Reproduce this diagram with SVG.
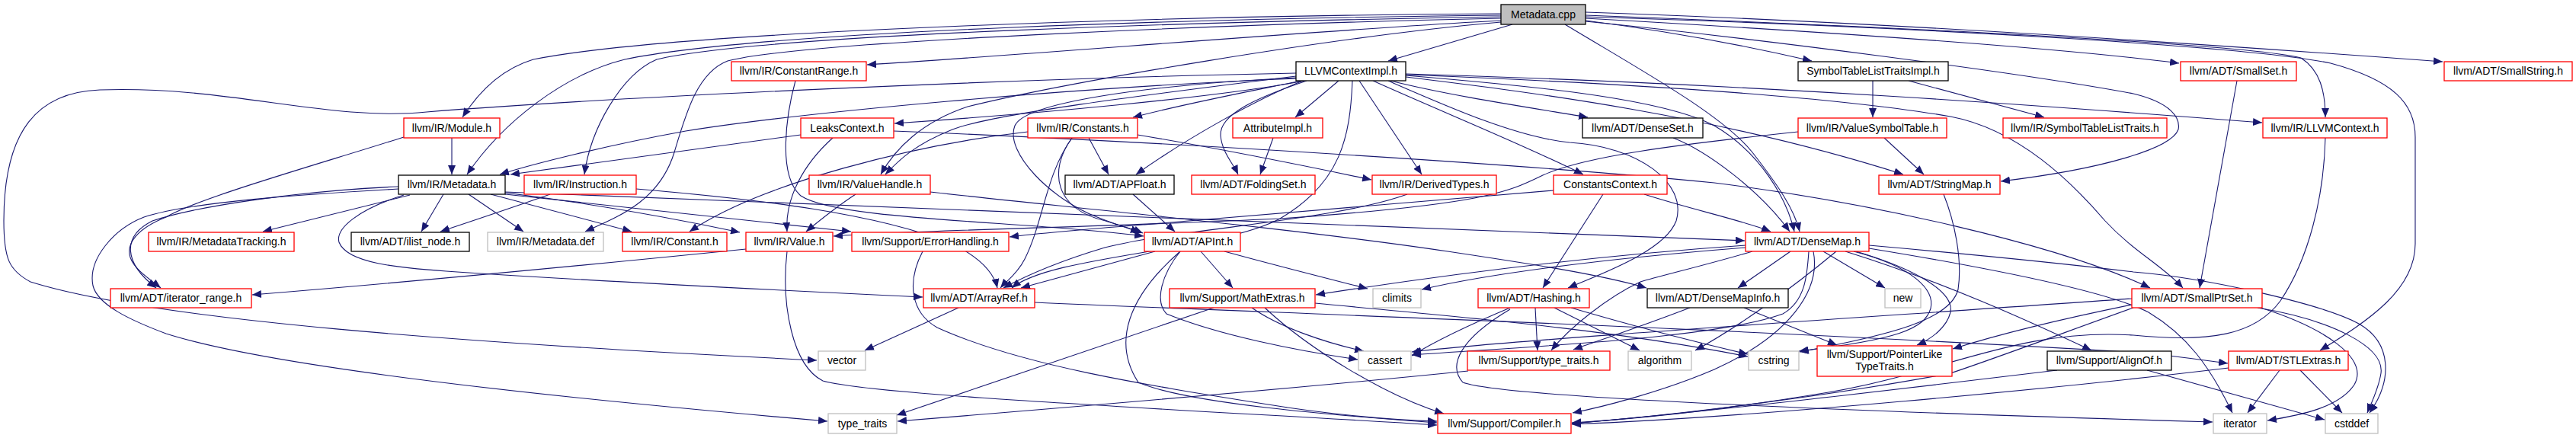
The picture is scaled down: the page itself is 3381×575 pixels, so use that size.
<svg xmlns="http://www.w3.org/2000/svg" width="3381" height="575" viewBox="0 0 3381 575">
<style>
text{font-family:"Liberation Sans",Arial,sans-serif;font-size:14px;text-anchor:middle;fill:#000}
rect{fill:#fff;stroke-width:1.3}
.r rect{stroke:#ff0000}
.b rect{stroke:#000}
.g rect{stroke:#bfbfbf}
.root rect{fill:#bfbfbf;stroke:#000}
#edges path{fill:none;stroke:#191970;stroke-width:1.1;marker-end:url(#ah)}
</style>
<defs>
<marker id="ah" viewBox="0 0 12 10" refX="12" refY="5" markerWidth="12" markerHeight="10" markerUnits="userSpaceOnUse" orient="auto"><path d="M0,0 L12,5 L0,10 z" fill="#191970" stroke="none"/></marker>
</defs>
<rect x="0" y="0" width="3381" height="575" style="fill:#fff;stroke:none"/>
<g id="edges">
<path d="M1970,20 C1600,24 1000,40 820,78 C740,98 660,160 613,229"/>
<path d="M1970,18 C1600,20 900,38 700,78 C660,90 630,118 607,154"/>
<path d="M1970,22 C1600,28 1000,45 862,78 C815,98 775,170 767,229"/>
<path d="M1970,24 C1600,32 1050,55 955,80 C915,95 900,150 885,200 C865,265 810,285 768,304"/>
<path d="M1970,27 C1750,38 1350,72 1138,85"/>
<path d="M1970,29 C1750,48 1400,108 1270,140 C1210,160 1175,195 1156,229"/>
<path d="M1985,32 L1822,80"/>
<path d="M2081,27 C2200,42 2300,62 2378,80"/>
<path d="M2081,24 C2400,42 2700,62 2860,83"/>
<path d="M2081,16 C2500,30 2950,62 3206,81"/>
<path d="M2081,20 C2500,36 2950,58 3020,76 C3045,92 3052,120 3052,154"/>
<path d="M2081,22 C2500,35 2950,60 3059,83 C3140,105 3170,135 3170,180 L3170,320 C3170,380 3110,420 3045,460"/>
<path d="M2081,28 C2300,50 2650,95 2800,123 C2850,135 2862,155 2859,170 C2850,195 2760,222 2626,238"/>
<path d="M2054,32 C2150,90 2260,150 2300,200 C2335,245 2355,275 2362,304"/>
<path d="M1701,96 C1300,104 800,128 560,147 C430,160 300,112 131,118 C50,121 5,170 5,290 C5,340 12,355 40,370 C200,420 600,450 1072,473"/>
<path d="M1712,106 C1600,128 1350,150 1174,162"/>
<path d="M1704,103 C1400,115 1050,148 900,172 C800,190 700,215 656,229"/>
<path d="M1708,106 C1640,120 1560,135 1487,154"/>
<path d="M1757,106 L1700,154"/>
<path d="M1825,106 C1900,125 2000,140 2084,154"/>
<path d="M1784,106 L1866,229"/>
<path d="M1802,106 C1900,150 2000,190 2078,229"/>
<path d="M1701,100 C1500,125 1300,150 1250,170 C1200,190 1180,210 1162,229"/>
<path d="M1710,106 C1650,130 1560,180 1491,229"/>
<path d="M1715,106 C1650,128 1600,150 1602,178 C1604,200 1618,214 1625,229"/>
<path d="M1701,102 C1500,112 1345,135 1332,165 C1318,200 1380,262 1440,285 C1465,295 1482,300 1496,305"/>
<path d="M1775,106 C1772,180 1760,240 1680,287 C1600,330 1380,335 1328,378"/>
<path d="M1822,106 C1900,140 1990,180 2060,187 C2150,192 2215,240 2200,290 C2185,330 2100,360 2058,378"/>
<path d="M1845,99 C2000,112 2180,128 2250,165 C2310,200 2345,260 2355,304"/>
<path d="M1845,101 C2000,120 2250,150 2498,229"/>
<path d="M1845,97 C2300,110 2700,140 2969,161"/>
<path d="M1845,98 C2100,108 2400,125 2560,153 C2650,170 2720,240 2763,290 C2800,330 2840,350 2865,378"/>
<path d="M2458,106 L2458,154"/>
<path d="M2505,106 L2683,154"/>
<path d="M2936,106 L2887,378"/>
<path d="M593,181 L593,229"/>
<path d="M530,180 C420,215 260,260 218,285 C180,300 165,320 171,338 C176,352 190,362 211,378"/>
<path d="M1051,177 L670,229"/>
<path d="M1093,181 C1055,215 1030,260 1033,304"/>
<path d="M1173,172 C1500,185 2000,215 2250,240 C2450,265 2700,320 2822,378"/>
<path d="M1349,173 C1200,190 1000,240 905,304"/>
<path d="M1429,181 L1455,229"/>
<path d="M1493,177 C1600,195 1700,215 1800,236"/>
<path d="M1407,181 C1372,230 1370,290 1345,340 C1335,360 1320,370 1313,378"/>
<path d="M1407,181 C1375,225 1385,275 1451,290 C1470,296 1485,300 1500,306"/>
<path d="M1671,181 L1654,229"/>
<path d="M2196,181 C2240,198 2310,250 2349,304"/>
<path d="M2473,181 L2525,229"/>
<path d="M2360,173 C2200,190 2080,205 2025,230 C1980,252 1950,268 1680,287 C1400,300 1200,302 1094,310"/>
<path d="M3052,181 C3050,260 3030,340 2993,395 C2960,440 2900,450 2800,440 C2650,430 2550,490 2400,515 C2250,540 2150,550 2063,555"/>
<path d="M538,256 C480,270 420,285 345,304"/>
<path d="M582,255 L553,304"/>
<path d="M615,255 L687,304"/>
<path d="M644,255 L829,304"/>
<path d="M663,253 C800,270 900,290 971,305"/>
<path d="M523,245 C400,250 260,270 200,290 C160,310 162,345 205,378"/>
<path d="M523,248 C400,255 250,265 189,285 C150,300 115,340 122,375 C128,400 170,420 218,438 C350,480 700,520 1086,553"/>
<path d="M530,256 C470,275 440,300 445,318 C455,345 520,352 600,357 C800,370 1000,380 1211,390"/>
<path d="M663,255 C850,275 1000,292 1117,304"/>
<path d="M663,252 C1000,265 1600,290 2290,316"/>
<path d="M722,255 C680,270 620,290 578,304"/>
<path d="M835,248 C1000,262 1150,280 1250,320 C1290,340 1305,360 1309,378"/>
<path d="M1123,255 C1100,270 1075,290 1058,304"/>
<path d="M1221,252 C1400,272 1700,300 1900,330 C2000,345 2100,360 2161,378"/>
<path d="M1487,255 L1542,304"/>
<path d="M1044,106 C1032,150 1020,230 1051,257 C1100,290 1350,290 1501,310"/>
<path d="M1847,255 C1750,290 1550,300 1450,325 C1400,340 1350,360 1317,378"/>
<path d="M2104,255 L2025,378"/>
<path d="M2158,255 C2220,275 2290,290 2324,304"/>
<path d="M2039,250 C1900,262 1700,280 1500,295 C1400,303 1350,308 1325,311"/>
<path d="M2551,255 C2565,290 2576,340 2570,380 C2560,420 2480,440 2362,462"/>
<path d="M2350,330 L2281,378"/>
<path d="M2393,330 L2474,378"/>
<path d="M2422,330 C2550,370 2660,420 2745,460"/>
<path d="M2436,330 C2520,355 2565,385 2560,410 C2555,430 2535,445 2516,453"/>
<path d="M2433,330 C2510,350 2540,380 2534,405 C2526,432 2490,446 2361,461"/>
<path d="M2374,330 C2372,360 2370,395 2340,412 C2250,445 2000,455 1853,466"/>
<path d="M2300,330 C2250,345 2180,362 2153,370 C2110,390 2060,430 2036,460"/>
<path d="M2380,330 C2390,380 2350,440 2250,485 C2180,515 2100,535 2064,542"/>
<path d="M2410,330 C2350,380 2280,430 2225,460"/>
<path d="M2291,325 C2100,340 1950,360 1866,380"/>
<path d="M2291,322 C2100,335 1900,360 1727,387"/>
<path d="M2453,322 C2600,335 2700,345 2800,357 C2900,365 3050,400 3096,425 C3140,450 3140,500 3110,542"/>
<path d="M2453,326 C2600,350 2760,380 2820,410 C2870,440 2900,480 2930,542"/>
<path d="M2798,400 C2700,420 2620,440 2563,458"/>
<path d="M2798,392 C2400,420 2000,445 1853,462"/>
<path d="M2800,404 C2700,440 2620,470 2560,490 C2400,520 2200,545 2063,556"/>
<path d="M2963,404 C3060,420 3130,455 3125,490 C3122,510 3112,530 3107,542"/>
<path d="M2967,404 C3050,430 3110,470 3090,505 C3070,535 3020,545 2976,552"/>
<path d="M1593,404 L1177,545"/>
<path d="M1643,404 C1680,430 1740,450 1790,461"/>
<path d="M1660,404 C1720,460 1820,520 1895,543"/>
<path d="M1726,398 C1900,415 2100,430 2294,468"/>
<path d="M1516,330 L1340,378"/>
<path d="M1576,330 L1618,378"/>
<path d="M1549,330 C1480,390 1460,450 1494,502 C1560,530 1750,545 1886,555"/>
<path d="M1607,330 C1680,350 1740,365 1795,379"/>
<path d="M1549,330 C1525,360 1515,395 1531,412 C1600,440 1700,460 1782,472"/>
<path d="M2015,404 L2018,460"/>
<path d="M1982,404 C1920,430 1880,450 1853,467"/>
<path d="M2040,404 L2152,460"/>
<path d="M1982,406 C1916,445 1900,480 1920,502 C1980,525 2600,545 2904,554"/>
<path d="M2062,404 C2150,430 2230,450 2294,465"/>
<path d="M1927,487 C1700,510 1400,535 1178,553"/>
<path d="M2218,404 C2150,430 2090,450 2065,459"/>
<path d="M2289,404 L2411,453"/>
<path d="M1211,330 C1190,370 1195,410 1230,430 C1340,480 1500,505 1690,535 C1780,548 1850,552 1886,553"/>
<path d="M1033,330 C1025,400 1040,480 1080,500 C1150,520 1600,540 1886,558"/>
<path d="M979,327 C800,345 600,365 331,387"/>
<path d="M1258,404 L1135,460"/>
<path d="M1358,397 C1700,412 2250,430 2810,463 C2860,468 2900,474 2924,477"/>
<path d="M2700,486 C2500,510 2250,540 2063,556"/>
<path d="M2818,486 L3051,551"/>
<path d="M2992,486 L2950,542"/>
<path d="M3019,486 L3074,542"/>
<path d="M2925,483 C2700,510 2300,548 2063,557"/>
</g>
<g id="n0" class="root"><rect x="1970" y="6" width="111" height="26"/><text x="2025.5" y="24">Metadata.cpp</text></g>
<g id="n1" class="r"><rect x="960" y="81" width="177" height="25"/><text x="1048.5" y="98">llvm/IR/ConstantRange.h</text></g>
<g id="n2" class="b"><rect x="1701" y="81" width="144" height="25"/><text x="1773" y="98">LLVMContextImpl.h</text></g>
<g id="n3" class="b"><rect x="2360" y="81" width="197" height="25"/><text x="2458.5" y="98">SymbolTableListTraitsImpl.h</text></g>
<g id="n4" class="r"><rect x="2862" y="81" width="152" height="25"/><text x="2938" y="98">llvm/ADT/SmallSet.h</text></g>
<g id="n5" class="r"><rect x="3208" y="81" width="168" height="25"/><text x="3292" y="98">llvm/ADT/SmallString.h</text></g>
<g id="n6" class="r"><rect x="530" y="155" width="126" height="26"/><text x="593" y="173">llvm/IR/Module.h</text></g>
<g id="n7" class="r"><rect x="1051" y="155" width="122" height="26"/><text x="1112" y="173">LeaksContext.h</text></g>
<g id="n8" class="r"><rect x="1349" y="155" width="144" height="26"/><text x="1421" y="173">llvm/IR/Constants.h</text></g>
<g id="n9" class="r"><rect x="1618" y="155" width="118" height="26"/><text x="1677" y="173">AttributeImpl.h</text></g>
<g id="n10" class="b"><rect x="2077" y="155" width="158" height="26"/><text x="2156" y="173">llvm/ADT/DenseSet.h</text></g>
<g id="n11" class="r"><rect x="2360" y="155" width="195" height="26"/><text x="2457.5" y="173">llvm/IR/ValueSymbolTable.h</text></g>
<g id="n12" class="r"><rect x="2629" y="155" width="215" height="26"/><text x="2736.5" y="173">llvm/IR/SymbolTableListTraits.h</text></g>
<g id="n13" class="r"><rect x="2970" y="155" width="163" height="26"/><text x="3051.5" y="173">llvm/IR/LLVMContext.h</text></g>
<g id="n14" class="b"><rect x="523" y="230" width="140" height="25"/><text x="593" y="247">llvm/IR/Metadata.h</text></g>
<g id="n15" class="r"><rect x="688" y="230" width="147" height="25"/><text x="761.5" y="247">llvm/IR/Instruction.h</text></g>
<g id="n16" class="r"><rect x="1062" y="230" width="159" height="25"/><text x="1141.5" y="247">llvm/IR/ValueHandle.h</text></g>
<g id="n17" class="b"><rect x="1398" y="230" width="143" height="25"/><text x="1469.5" y="247">llvm/ADT/APFloat.h</text></g>
<g id="n18" class="r"><rect x="1564" y="230" width="162" height="25"/><text x="1645" y="247">llvm/ADT/FoldingSet.h</text></g>
<g id="n19" class="r"><rect x="1801" y="230" width="163" height="25"/><text x="1882.5" y="247">llvm/IR/DerivedTypes.h</text></g>
<g id="n20" class="r"><rect x="2039" y="230" width="149" height="25"/><text x="2113.5" y="247">ConstantsContext.h</text></g>
<g id="n21" class="r"><rect x="2466" y="230" width="159" height="25"/><text x="2545.5" y="247">llvm/ADT/StringMap.h</text></g>
<g id="n22" class="r"><rect x="195" y="305" width="191" height="25"/><text x="290.5" y="322">llvm/IR/MetadataTracking.h</text></g>
<g id="n23" class="b"><rect x="461" y="305" width="155" height="25"/><text x="538.5" y="322">llvm/ADT/ilist_node.h</text></g>
<g id="n24" class="g"><rect x="640" y="305" width="152" height="25"/><text x="716" y="322">llvm/IR/Metadata.def</text></g>
<g id="n25" class="r"><rect x="817" y="305" width="137" height="25"/><text x="885.5" y="322">llvm/IR/Constant.h</text></g>
<g id="n26" class="r"><rect x="979" y="305" width="114" height="25"/><text x="1036" y="322">llvm/IR/Value.h</text></g>
<g id="n27" class="r"><rect x="1118" y="305" width="206" height="25"/><text x="1221" y="322">llvm/Support/ErrorHandling.h</text></g>
<g id="n28" class="r"><rect x="1502" y="305" width="126" height="25"/><text x="1565" y="322">llvm/ADT/APInt.h</text></g>
<g id="n29" class="r"><rect x="2291" y="305" width="162" height="25"/><text x="2372" y="322">llvm/ADT/DenseMap.h</text></g>
<g id="n30" class="r"><rect x="145" y="379" width="185" height="25"/><text x="237.5" y="396">llvm/ADT/iterator_range.h</text></g>
<g id="n31" class="r"><rect x="1212" y="379" width="146" height="25"/><text x="1285" y="396">llvm/ADT/ArrayRef.h</text></g>
<g id="n32" class="r"><rect x="1535" y="379" width="191" height="25"/><text x="1630.5" y="396">llvm/Support/MathExtras.h</text></g>
<g id="n33" class="g"><rect x="1802" y="379" width="63" height="25"/><text x="1833.5" y="396">climits</text></g>
<g id="n34" class="r"><rect x="1940" y="379" width="146" height="25"/><text x="2013" y="396">llvm/ADT/Hashing.h</text></g>
<g id="n35" class="b"><rect x="2162" y="379" width="185" height="25"/><text x="2254.5" y="396">llvm/ADT/DenseMapInfo.h</text></g>
<g id="n36" class="g"><rect x="2474" y="379" width="47" height="25"/><text x="2497.5" y="396">new</text></g>
<g id="n37" class="r"><rect x="2798" y="379" width="171" height="25"/><text x="2883.5" y="396">llvm/ADT/SmallPtrSet.h</text></g>
<g id="n38" class="g"><rect x="1074" y="461" width="62" height="25"/><text x="1105" y="478">vector</text></g>
<g id="n39" class="g"><rect x="1783" y="461" width="69" height="25"/><text x="1817.5" y="478">cassert</text></g>
<g id="n40" class="r"><rect x="1926" y="461" width="187" height="25"/><text x="2019.5" y="478">llvm/Support/type_traits.h</text></g>
<g id="n41" class="g"><rect x="2137" y="461" width="83" height="25"/><text x="2178.5" y="478">algorithm</text></g>
<g id="n42" class="g"><rect x="2295" y="461" width="66" height="25"/><text x="2328" y="478">cstring</text></g>
<g id="n43" class="r"><rect x="2385" y="454" width="177" height="40"/><text x="2473.5" y="470">llvm/Support/PointerLike</text><text x="2473.5" y="486">TypeTraits.h</text></g>
<g id="n44" class="b"><rect x="2687" y="461" width="163" height="25"/><text x="2768.5" y="478">llvm/Support/AlignOf.h</text></g>
<g id="n45" class="r"><rect x="2925" y="461" width="157" height="25"/><text x="3003.5" y="478">llvm/ADT/STLExtras.h</text></g>
<g id="n46" class="g"><rect x="1087" y="543" width="90" height="26"/><text x="1132" y="561">type_traits</text></g>
<g id="n47" class="r"><rect x="1887" y="543" width="175" height="26"/><text x="1974.5" y="561">llvm/Support/Compiler.h</text></g>
<g id="n48" class="g"><rect x="2905" y="543" width="70" height="26"/><text x="2940" y="561">iterator</text></g>
<g id="n49" class="g"><rect x="3052" y="543" width="69" height="26"/><text x="3086.5" y="561">cstddef</text></g>
</svg>
